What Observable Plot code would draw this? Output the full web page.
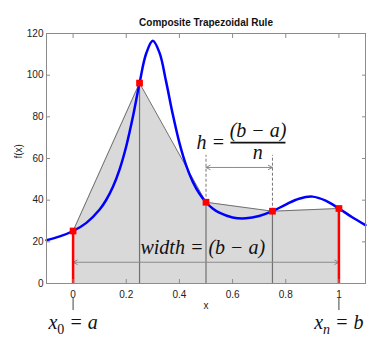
<!DOCTYPE html>
<html><head><meta charset="utf-8">
<script src="https://cdn.jsdelivr.net/npm/d3@7"></script>
<script src="https://cdn.jsdelivr.net/npm/@observablehq/plot@0.6"></script>
<style>body{margin:0;background:#fff}</style>
</head><body><div id="chart"></div>
<script>
const curveX = [-0.1,-0.05,0,0.05,0.1,0.125,0.15,0.175,0.2,0.225,0.25,0.275,0.3,0.325,0.35,0.375,0.4,0.425,0.45,0.475,0.5,0.525,0.55,0.6,0.65,0.7,0.75,0.8,0.85,0.9,0.95,1.0,1.05,1.1];
const curveY = [20.8,22.6,25.2,29.1,35.5,40.2,46.4,54.8,65.9,80.0,96.2,110.4,116.5,110.8,96.9,81.2,67.5,56.8,48.9,43.2,39.0,36.0,34.0,31.7,31.3,32.4,34.7,37.9,40.7,41.7,39.8,36.0,31.8,28.0];
const nodeX = [0,0.25,0.5,0.75,1];
const nodeY = [25.2,96.2,39.0,34.7,36.0];
const xTicks = [0,0.2,0.4,0.6,0.8,1];
const xTickLabels = ["0","0.2","0.4","0.6","0.8","1"];
const yTicks = [0,20,40,60,80,100,120];
const titleText = "Composite Trapezoidal Rule";
const xLabel = "x";
const yLabel = "f(x)";
// annotation anchors (data units)
const hArrow = {x1:0.5, x2:0.75, y:55.7, top:61.5};
const widthArrow = {x1:0, x2:1, y:10.2};
const hEq = {x:0.518, y:67.8, text:"h ="};
const hNum = {x:0.696, y:73.6, text:"(b − a)"};
const hDen = {x:0.695, y:62.6, text:"n"};
const hBar = {x1:0.592, x2:0.799, y:67.6};
const widthEq = {x:0.488, y:17.4, text:"width = (b − a)"};
const endLabels = [{x:0, base:"x", sub:"0", rest:" = a"},{x:1, base:"x", sub:"n", rest:" = b"}];
const endLabelY = -18.6;
const endTick = {y1:-7.2, y2:-13};

const curve = curveX.map((x,i)=>({x, y:curveY[i]}));
const nodes = nodeX.map((x,i)=>({x, y:nodeY[i]}));
const inner = nodes.slice(1,4);
const ends = [nodes[0], nodes[4]];
const dashed = nodes.slice(2,4);
const mathFont = "Liberation Serif, DejaVu Serif, serif";
const halves = a => {const m=(a.x1+a.x2)/2; return [{x1:m,x2:a.x1,y:a.y},{x1:m,x2:a.x2,y:a.y}];};
const arrowSegs = [...halves(hArrow), ...halves(widthArrow)];
const endKey = d => d.base + d.sub + d.rest;

const chart = Plot.plot({
  width:384, height:352,
  marginLeft:46, marginRight:19, marginTop:33, marginBottom:69,
  x:{domain:[-0.1,1.1]},
  y:{domain:[0,120]},
  style:{fontFamily:"Liberation Sans, Arial, sans-serif", fontSize:"10px", background:"#fff", color:"#222"},
  marks:[
    Plot.areaY(nodes,{x:"x", y:"y", fill:"#d9d9d9"}),
    Plot.ruleX(inner,{x:"x", y1:0, y2:"y", stroke:"#707070", strokeWidth:1.2}),
    Plot.line(nodes,{x:"x", y:"y", stroke:"#707070", strokeWidth:1}),
    Plot.ruleX(dashed,{x:"x", y1:"y", y2:hArrow.top, stroke:"#777", strokeDasharray:"3,2"}),
    Plot.arrow(arrowSegs,{x1:"x1", x2:"x2", y1:"y", y2:"y", stroke:"#8a8a8a", strokeWidth:1, headLength:7, headAngle:55}),
    Plot.ruleX(ends,{x:"x", y1:0, y2:"y", stroke:"#ff0000", strokeWidth:2.5}),
    Plot.line(curve,{x:"x", y:"y", curve:"catmull-rom", stroke:"#0000ff", strokeWidth:2.5}),
    Plot.dot(nodes,{x:"x", y:"y", symbol:"square", r:3.8, fill:"#ff0000", stroke:"none"}),
    Plot.frame({stroke:"#8c8c8c"}),
    Plot.axisX(xTicks,{anchor:"bottom", tickSize:-4, tickPadding:11, stroke:"#8c8c8c", fill:"#222", tickFormat:(d,i)=>xTickLabels[i], label:null}),
    Plot.axisX(xTicks,{anchor:"top", tickSize:-4, stroke:"#8c8c8c", tickFormat:()=>"", label:null}),
    Plot.axisY(yTicks,{anchor:"left", tickSize:-4, tickPadding:7, stroke:"#8c8c8c", fill:"#222", label:null}),
    Plot.axisY(yTicks,{anchor:"right", tickSize:-4, stroke:"#8c8c8c", tickFormat:()=>"", label:null}),
    Plot.text([titleText],{frameAnchor:"top", dy:-11, lineAnchor:"middle", fontWeight:"bold", fontSize:10, fill:"#111"}),
    Plot.text([xLabel],{frameAnchor:"bottom", dy:22, lineAnchor:"middle", fontSize:10, fill:"#222"}),
    Plot.text([yLabel],{frameAnchor:"left", dx:-28, rotate:-90, lineAnchor:"middle", fontSize:10, fill:"#222"}),
    Plot.text([hEq],{x:"x", y:"y", text:"text", fontFamily:mathFont, fontStyle:"italic", fontSize:20, fill:"#111"}),
    Plot.text([hNum],{x:"x", y:"y", text:"text", fontFamily:mathFont, fontStyle:"italic", fontSize:20, fill:"#111"}),
    Plot.text([hDen],{x:"x", y:"y", text:"text", fontFamily:mathFont, fontStyle:"italic", fontSize:20, fill:"#111"}),
    Plot.link([hBar],{x1:"x1", x2:"x2", y1:"y", y2:"y", stroke:"#111", strokeWidth:1.8}),
    Plot.text([widthEq],{x:"x", y:"y", text:"text", fontFamily:mathFont, fontStyle:"italic", fontSize:20, fill:"#111"}),
    Plot.ruleX(endLabels,{x:"x", y1:endTick.y1, y2:endTick.y2, stroke:"#444", strokeWidth:1}),
    Plot.text(endLabels,{x:"x", y:endLabelY, text:endKey, fontFamily:mathFont, fontStyle:"italic", fontSize:20, fill:"#111"})
  ]
});
// typeset the subscripts of x0 and xn
d3.select(chart).selectAll("text").each(function(){
  const lab = endLabels.find(l => endKey(l) === this.textContent);
  if (!lab) return;
  const t = d3.select(this);
  t.text(null);
  t.append("tspan").text(lab.base);
  t.append("tspan").attr("dy", 5).attr("font-size", 14)
    .attr("font-style", /\d/.test(lab.sub) ? "normal" : "italic").text(lab.sub);
  t.append("tspan").attr("dy", -5).text(lab.rest);
});
document.getElementById("chart").appendChild(chart);
</script>
</body></html>
